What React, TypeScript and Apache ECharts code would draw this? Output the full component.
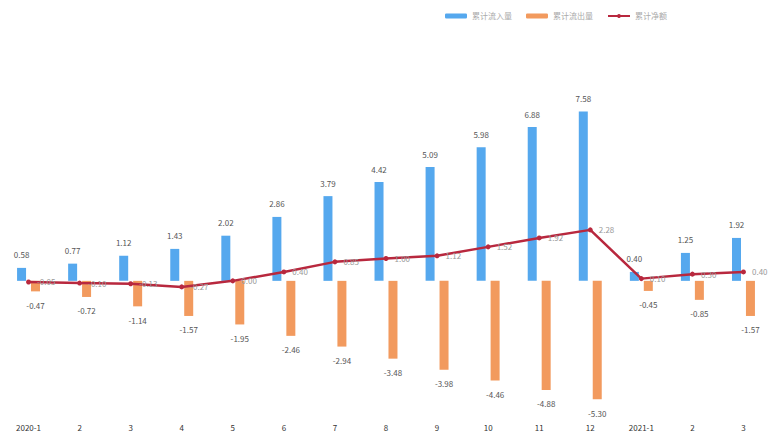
import React, { useEffect, useRef } from "react";
import * as echarts from "echarts";

const categories = ["2020-1", "2", "3", "4", "5", "6", "7", "8", "9", "10", "11", "12", "2021-1", "2", "3"];
const inflow = [0.58, 0.77, 1.12, 1.43, 2.02, 2.86, 3.79, 4.42, 5.09, 5.98, 6.88, 7.58, 0.40, 1.25, 1.92];
const outflow = [-0.47, -0.72, -1.14, -1.57, -1.95, -2.46, -2.94, -3.48, -3.98, -4.46, -4.88, -5.30, -0.45, -0.85, -1.57];
const net = [-0.05, -0.10, -0.13, -0.27, 0.0, 0.40, 0.85, 1.0, 1.12, 1.52, 1.92, 2.28, 0.10, 0.30, 0.40];
const seriesNames = ["累计流入量", "累计流出量", "累计净额"];

export default function App() {
  const ref = useRef<HTMLDivElement>(null);
  useEffect(() => {
    if (!ref.current) return;
    const chart = echarts.init(ref.current, undefined, { renderer: "svg" });
    const labelStyle = { fontSize: 8, color: "#555", fontFamily: "Noto Sans CJK SC" };
    chart.setOption({
      animation: false,
      backgroundColor: "#fff",
      textStyle: { fontFamily: "Noto Sans CJK SC" },
      legend: {
        top: 7,
        left: 440,
        itemWidth: 22,
        itemHeight: 5,
        itemGap: 14,
        textStyle: { fontSize: 8, color: "#aaa" },
        data: seriesNames,
      },
      grid: { left: 3, right: -1, top: 102, bottom: 24, containLabel: false },
      xAxis: {
        type: "category",
        data: categories,
        axisLine: { show: false, onZero: false },
        axisTick: { show: false },
        axisLabel: { fontSize: 8, color: "#333", margin: 8, interval: 0 },
      },
      yAxis: {
        type: "value",
        min: -6,
        max: 8,
        show: false,
        splitLine: { show: false },
      },
      series: [
        {
          name: seriesNames[0],
          type: "bar",
          data: inflow,
          barWidth: 9,
          barGap: "55%",
          itemStyle: { color: "#55A8EE" },
          label: { show: true, position: "top", distance: 9, ...labelStyle, formatter: (p: any) => p.value.toFixed(2) },
        },
        {
          name: seriesNames[1],
          type: "bar",
          data: outflow,
          barWidth: 9,
          itemStyle: { color: "#F29A5E" },
          label: { show: true, position: "bottom", distance: 10, ...labelStyle, formatter: (p: any) => p.value.toFixed(2) },
        },
        {
          name: seriesNames[2],
          type: "line",
          data: net,
          symbol: "circle",
          symbolSize: 5,
          lineStyle: { color: "#B8283E", width: 2.5 },
          itemStyle: { color: "#B8283E" },
          label: { show: true, position: "right", distance: 6, ...labelStyle, color: "#999", formatter: (p: any) => p.value.toFixed(2) },
        },
      ],
    });
    return () => chart.dispose();
  }, []);
  return <div ref={ref} style={{ position: "absolute", left: 0, top: 0, width: 769, height: 439 }} />;
}
